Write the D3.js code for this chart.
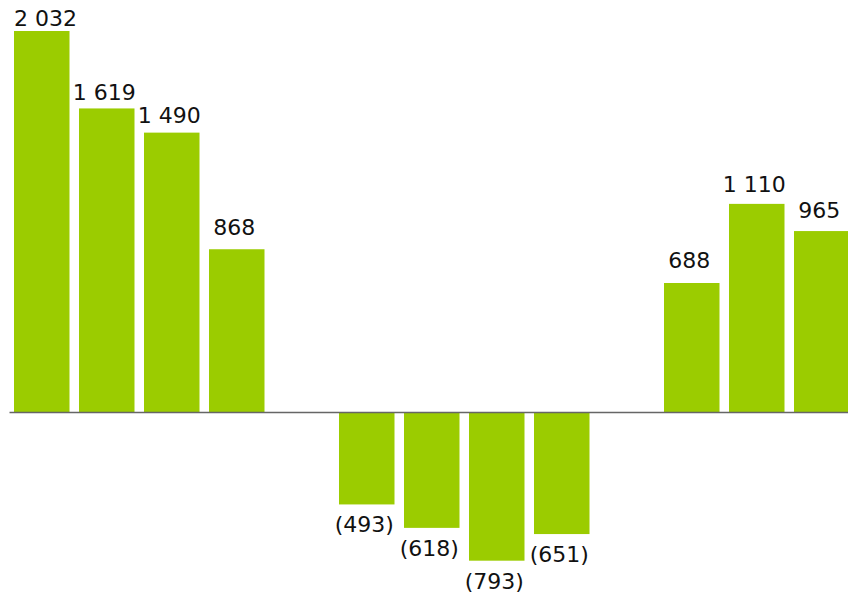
<!DOCTYPE html>
<html>
<head>
<meta charset="utf-8">
<script src="https://cdn.jsdelivr.net/npm/d3@7"></script>
<style>
  body { margin: 0; background: #fff; }
  text { font-family: "DejaVu Sans", Verdana, sans-serif; font-size: 22px; fill: #111; }
</style>
</head>
<body>
<div id="chart"></div>
<script>
// one slot per period; empty slots are the gaps between groups
const categories = ['a1', 'a2', 'a3', 'a4', 'g1', 'b1', 'b2', 'b3', 'b4', 'g2', 'c1', 'c2', 'c3'];
const values = [2032, 1619, 1490, 868, null, -493, -618, -793, -651, null, 688, 1110, 965];

const width = 848;
const height = 594;

const svg = d3.select('#chart')
  .append('svg')
  .attr('width', width)
  .attr('height', height);

const x = d3.scaleBand()
  .domain(categories)
  .range([14, 849.5])
  .paddingInner(9.5 / 65)
  .paddingOuter(0);

const y = d3.scaleLinear()
  .domain([0, 2032])
  .range([412, 31]);

// label baselines sit a little looser over the short bars
const yLabel = d3.scaleLinear()
  .domain([0, 2032])
  .range([392, 25.5]);

const fmt = v => {
  const s = d3.format(',')(Math.abs(v)).replace(/,/g, ' ');
  return v < 0 ? '(' + s + ')' : s;
};

const data = categories.map((c, i) => ({ c, v: values[i] })).filter(d => d.v !== null);

// bars
svg.selectAll('.bar')
  .data(data)
  .enter()
  .append('rect')
  .attr('class', 'bar')
  .attr('x', d => x(d.c))
  .attr('width', x.bandwidth())
  .attr('y', d => Math.min(y(d.v), y(0)))
  .attr('height', d => Math.abs(y(d.v) - y(0)))
  .attr('fill', '#9bcc00');

// zero line
svg.append('line')
  .attr('x1', 9.5)
  .attr('x2', width)
  .attr('y1', y(0) + 0.5)
  .attr('y2', y(0) + 0.5)
  .attr('stroke', '#666')
  .attr('stroke-width', 1.3);

// value labels
svg.selectAll('.label')
  .data(data)
  .enter()
  .append('text')
  .attr('class', 'label')
  .attr('text-anchor', 'middle')
  .attr('x', d => x(d.c) + x.bandwidth() / 2 - 2.5)
  .attr('y', d => d.v >= 0 ? yLabel(d.v) : y(d.v) + 28)
  .text(d => fmt(d.v))
  .each(function () {
    // keep labels from spilling past the left edge of the plot
    const b = this.getBBox();
    if (b.x < 14) d3.select(this).attr('x', +d3.select(this).attr('x') + (14 - b.x));
  });
</script>
</body>
</html>
